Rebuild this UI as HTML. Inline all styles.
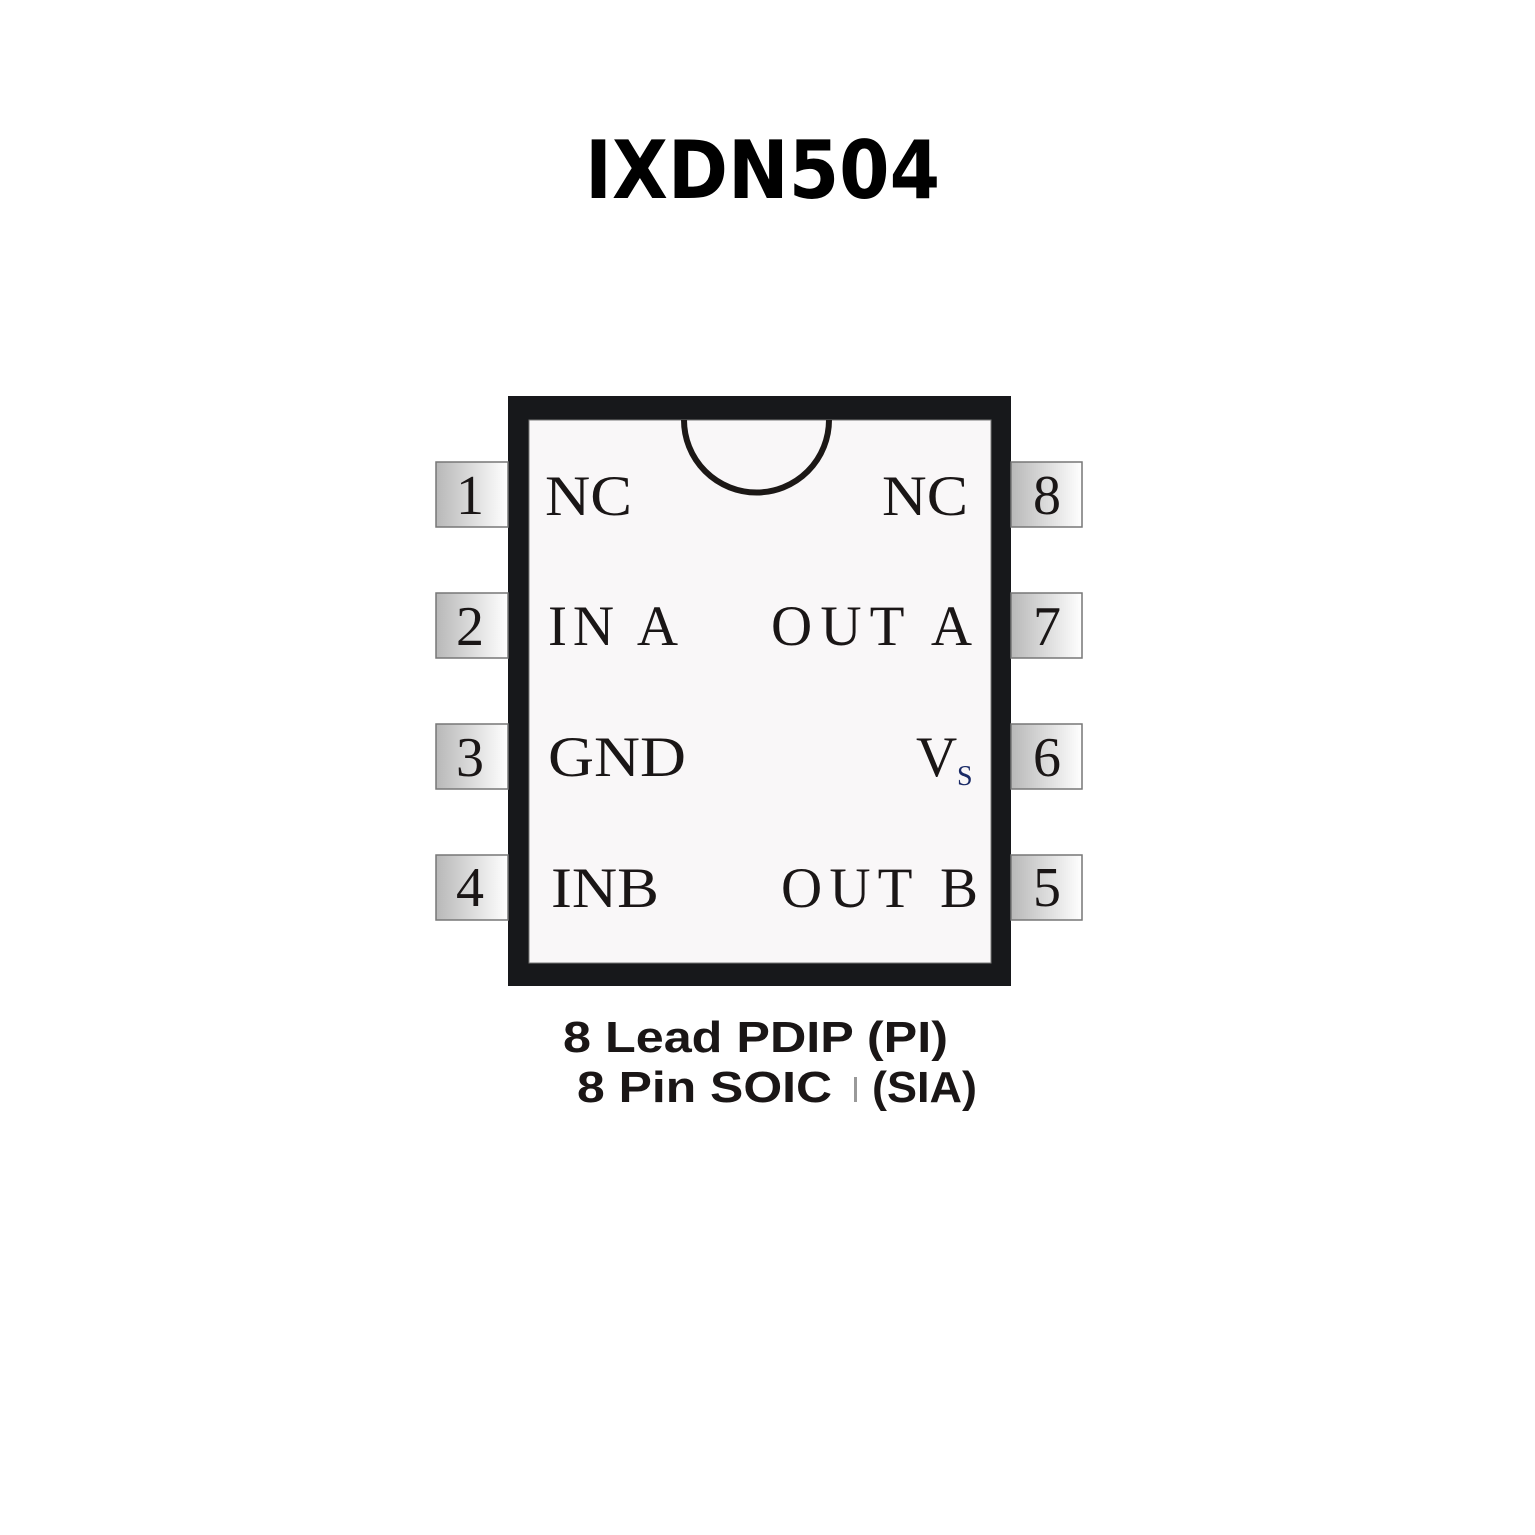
<!DOCTYPE html>
<html><head><meta charset="utf-8"><style>
html,body{margin:0;padding:0;background:#fff;}
svg{display:block;}
.serif{font-family:"Liberation Serif",serif;fill:#1a1616;}
</style></head><body>
<svg width="1535" height="1535" viewBox="0 0 1535 1535" xmlns="http://www.w3.org/2000/svg">
<defs>
<linearGradient id="g" x1="0" x2="1" y1="0" y2="0">
<stop offset="0" stop-color="#b8b8b8"/><stop offset="1" stop-color="#ffffff"/>
</linearGradient>
</defs>
<text x="585" y="198" font-family="DejaVu Sans,sans-serif" font-weight="bold" font-size="80" textLength="355" lengthAdjust="spacingAndGlyphs" fill="#000">IXDN504</text>

<rect x="508" y="396" width="503" height="590" fill="#17181b"/>
<rect x="529" y="420" width="462" height="543" fill="#f9f7f8" stroke="#777" stroke-width="1"/>
<path d="M684 420 A72.5 72.5 0 0 0 829 420" fill="none" stroke="#1c1816" stroke-width="6"/>

<g stroke="#777" stroke-width="1.5" fill="url(#g)">
<rect x="436" y="462" width="72" height="65"/>
<rect x="436" y="593" width="72" height="65"/>
<rect x="436" y="724" width="72" height="65"/>
<rect x="436" y="855" width="72" height="65"/>
<rect x="1011" y="462" width="71" height="65"/>
<rect x="1011" y="593" width="71" height="65"/>
<rect x="1011" y="724" width="71" height="65"/>
<rect x="1011" y="855" width="71" height="65"/>
</g>
<g class="serif" font-size="56" text-anchor="middle">
<text x="470" y="514">1</text>
<text x="470" y="645">2</text>
<text x="470" y="776">3</text>
<text x="470" y="906">4</text>
<text x="1047" y="514">8</text>
<text x="1047" y="645">7</text>
<text x="1047" y="776">6</text>
<text x="1047" y="906">5</text>
</g>
<g class="serif" font-size="57">
<text x="545" y="515" textLength="87" lengthAdjust="spacingAndGlyphs">NC</text>
<text x="882" y="515" textLength="86" lengthAdjust="spacingAndGlyphs">NC</text>
<text x="548" y="645" textLength="130" lengthAdjust="spacing">IN A</text>
<text x="771" y="645" textLength="201" lengthAdjust="spacing">OUT A</text>
<text x="548" y="776" textLength="138" lengthAdjust="spacingAndGlyphs">GND</text>
<text x="916" y="776">V</text>
<text x="957" y="785" font-size="28" fill="#1a2a66">S</text>
<text x="551" y="907" textLength="108" lengthAdjust="spacingAndGlyphs">INB</text>
<text x="781" y="907" textLength="197" lengthAdjust="spacing">OUT B</text>
</g>
<g font-family="Liberation Sans,sans-serif" font-weight="bold" font-size="44" fill="#1a1616">
<text x="563" y="1052" textLength="385" lengthAdjust="spacingAndGlyphs">8 Lead PDIP (PI)</text>
<text x="577" y="1102" textLength="255" lengthAdjust="spacingAndGlyphs">8 Pin SOIC</text>
<text x="872" y="1102" textLength="105" lengthAdjust="spacingAndGlyphs">(SIA)</text>
</g>
<rect x="854" y="1077" width="3" height="25" fill="#999"/>
</svg>
</body></html>
